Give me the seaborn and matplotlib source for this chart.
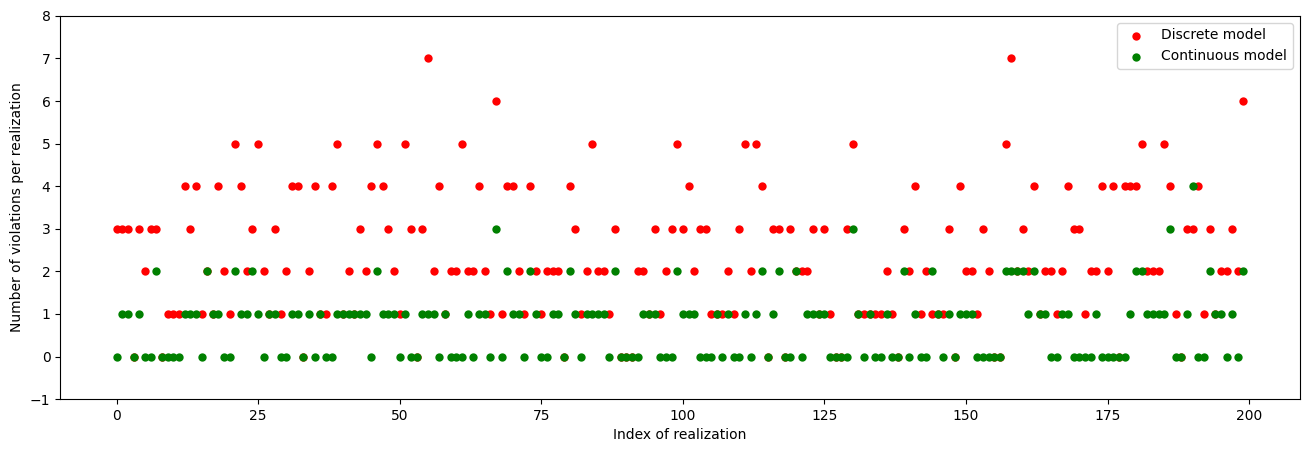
import numpy as np
import pandas as pd
import matplotlib
matplotlib.use("Agg")
import matplotlib.pyplot as plt
import seaborn as sns

# violations per realization
discrete_violations = [
    3, 3, 3, 0, 3, 2, 3, 3, 0, 1,
    1, 1, 4, 3, 4, 1, 2, 1, 4, 2,
    1, 5, 4, 2, 3, 5, 2, 1, 3, 1,
    2, 4, 4, 0, 2, 4, 1, 1, 4, 5,
    1, 2, 1, 3, 2, 4, 5, 4, 3, 2,
    1, 5, 3, 0, 3, 7, 2, 4, 1, 2,
    2, 5, 2, 2, 4, 2, 1, 6, 1, 4,
    4, 2, 1, 4, 2, 1, 2, 2, 2, 0,
    4, 3, 1, 2, 5, 2, 2, 1, 3, 0,
    0, 0, 2, 2, 1, 3, 1, 2, 3, 5,
    3, 4, 2, 3, 3, 1, 1, 1, 2, 1,
    3, 5, 2, 5, 4, 0, 3, 3, 0, 3,
    2, 2, 2, 3, 1, 3, 1, 0, 0, 3,
    5, 1, 1, 1, 1, 1, 2, 1, 0, 3,
    2, 4, 1, 2, 1, 1, 1, 3, 0, 4,
    2, 2, 1, 3, 2, 0, 0, 5, 7, 2,
    3, 2, 4, 1, 2, 2, 1, 2, 4, 3,
    3, 1, 2, 2, 4, 2, 4, 0, 4, 4,
    4, 5, 2, 2, 2, 5, 4, 1, 0, 3,
    3, 4, 1, 3, 1, 2, 2, 3, 2, 6,
]
continuous_violations = [
    0, 1, 1, 0, 1, 0, 0, 2, 0, 0,
    0, 0, 1, 1, 1, 0, 2, 1, 1, 0,
    0, 2, 1, 1, 2, 1, 0, 1, 1, 0,
    0, 1, 1, 0, 1, 0, 1, 0, 0, 1,
    1, 1, 1, 1, 1, 0, 2, 1, 1, 1,
    0, 1, 0, 0, 1, 1, 1, 0, 1, 0,
    0, 0, 1, 0, 1, 1, 0, 3, 0, 2,
    1, 1, 0, 2, 1, 0, 0, 1, 1, 0,
    2, 1, 0, 1, 1, 1, 1, 0, 2, 0,
    0, 0, 0, 1, 1, 1, 0, 0, 0, 2,
    1, 1, 1, 0, 0, 0, 1, 0, 1, 0,
    0, 1, 0, 1, 2, 0, 1, 2, 0, 0,
    2, 0, 1, 1, 1, 1, 0, 0, 0, 0,
    3, 1, 0, 1, 0, 0, 1, 0, 0, 2,
    0, 1, 0, 0, 2, 1, 0, 1, 0, 1,
    1, 1, 0, 0, 0, 0, 0, 2, 2, 2,
    2, 1, 2, 1, 1, 0, 0, 1, 1, 0,
    0, 0, 0, 1, 0, 0, 0, 0, 0, 1,
    2, 2, 1, 1, 1, 1, 3, 0, 0, 1,
    4, 0, 0, 2, 1, 1, 0, 1, 0, 2,
]
realization = np.arange(len(discrete_violations))

fig = plt.figure(figsize=(13.09, 4.53), dpi=100)
ax = fig.add_axes([0.046, 0.119, 0.947, 0.846])

sns.scatterplot(x=realization, y=discrete_violations, color="red", s=36,
                linewidth=0, label="Discrete model", ax=ax)
sns.scatterplot(x=realization, y=continuous_violations, color="green", s=36,
                linewidth=0, label="Continuous model", ax=ax)

ax.set_ylim(-1, 8)
ax.set_yticks(range(-1, 9))
ax.set_xticks(range(0, 201, 25))
ax.set_xlabel("Index of realization")
ax.set_ylabel("Number of violations per realization")
ax.legend(loc="upper right")

fig.savefig("out.png", dpi=100)
